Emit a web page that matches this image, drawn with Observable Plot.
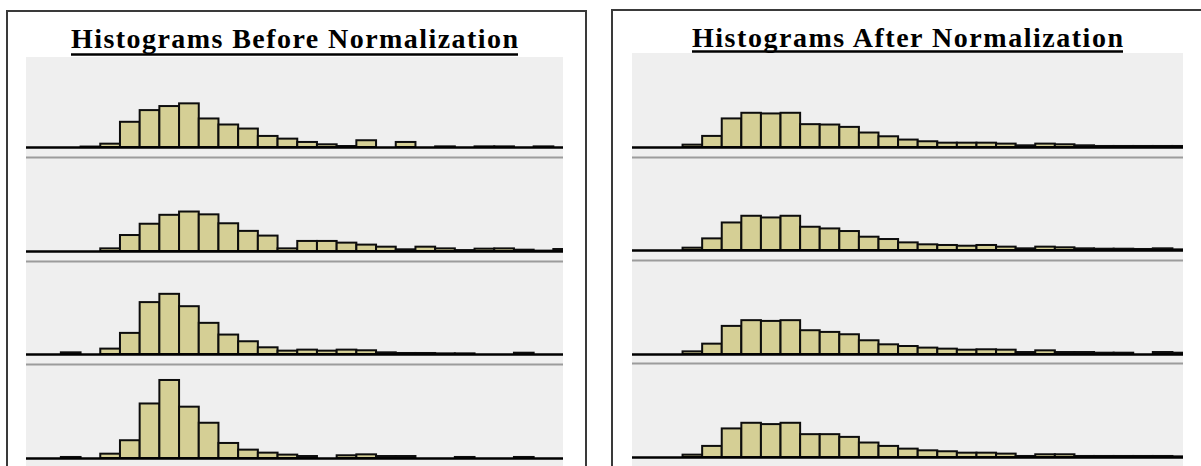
<!DOCTYPE html>
<html><head><meta charset="utf-8">
<script src="https://cdn.jsdelivr.net/npm/d3@7"></script>
<script src="https://cdn.jsdelivr.net/npm/@observablehq/plot@0.6"></script>
<style>
body{margin:0;background:#fff;width:1201px;height:466px;overflow:hidden;position:relative;font-family:"Liberation Serif",serif}
.panel{position:absolute;border:2px solid #3a3a3a;box-sizing:border-box}
.row{position:absolute;line-height:0}
.row svg{display:block}
#titles{position:absolute;left:0;top:0}
</style></head><body>
<script>
// Titles
const titleLeft = "Histograms Before Normalization";
const titleRight = "Histograms After Normalization";

// Bin indices (bin i spans i..i+1)
const binsLeft  = [0,1,2,3,4,5,6,7,8,9,10,11,12,13,14,15,16,17,18,19,20,21,22,23,24,25,26,27];
const binsRight = [0,1,2,3,4,5,6,7,8,9,10,11,12,13,14,15,16,17,18,19,20,21,22,23,24,25,26,27,28];

// Relative frequency (percent of panel height), before normalization
const before1 = [0,0,0,0.5,3.7,28,41,45.5,48.5,31.7,25,20.5,12.3,9.3,5.6,3,1.1,7.5,0,5.6,0,0.7,0,0.7,0.7,0,0.7,0];
const before2 = [0,0,0,0,2.8,17,29,38.5,42,39,29.5,21.4,16.4,2.8,10.7,10.7,8.9,6.8,4.6,1.8,4.6,2.8,1,2.5,2.8,1.4,0.4,2.1];
const before3 = [0,0,1.8,0,5.8,22.7,55.8,64.7,51.4,33.5,20.9,13.7,7.2,3.6,4.7,3.6,4.7,4,1.8,1.1,1.1,0.7,0.7,0,0,1.4,0,0];
const before4 = [0,0,1.1,0,4.6,18.9,58,83,54.6,37.5,16,8.9,5.7,3.6,2.1,0,2.9,3.9,2.1,2.1,0,0,1.1,0,0,1.1,0,0];

// After normalization
const after1 = [0,0,0,2.5,11.8,30.4,36.4,35.7,36.4,24.3,23.9,21.4,15.4,11.4,7.9,6.1,4.6,4.6,4.6,3.6,1.8,3.6,2.9,1.8,1.1,1.1,1.1,1.1,1.1];
const after2 = [0,0,0,2.5,12.5,29.6,36.8,35,36.8,25,23.2,20.4,14.3,11.8,8.2,6.1,5.4,4.6,5.4,3.6,1.8,3.6,2.9,1.8,1.4,1.4,1.1,1.8,0.7];
const after3 = [0,0,0,2.8,11,29.9,36,35.2,36,25.3,23.5,21,14.6,10.3,8.5,6.8,5.7,4.6,5,4.6,2.1,3.9,2.1,2.1,1.4,1.4,0,2.1,1.4];
const after4 = [0,0,0,2.5,11.8,30.4,36.4,35,36.4,24.3,24.3,21.4,15.4,11.8,8.9,7.1,6.1,4.6,4.6,3.6,1.1,2.9,2.9,1.1,1.1,1.1,1.1,1.1,0.7];

const BAR_FILL = "#d5cf95";
const BG = "#efefef";

// panel borders
function panel(l, t, w, h) {
  const d = document.createElement("div");
  d.className = "panel";
  Object.assign(d.style, {left: l + "px", top: t + "px", width: w + "px", height: h + "px"});
  document.body.appendChild(d);
}
panel(6, 10, 581, 480);
panel(611, 9, 610, 480);

// titles
const ns = "http://www.w3.org/2000/svg";
const tsvg = document.createElementNS(ns, "svg");
tsvg.setAttribute("id", "titles");
tsvg.setAttribute("width", 1201);
tsvg.setAttribute("height", 60);
function addTitle(txt, x0, x1, base, uy) {
  const t = document.createElementNS(ns, "text");
  t.textContent = txt;
  t.setAttribute("x", (x0 + x1) / 2);
  t.setAttribute("y", base);
  t.setAttribute("text-anchor", "middle");
  t.setAttribute("font-family", "Liberation Serif, Times New Roman, serif");
  t.setAttribute("font-weight", "bold");
  t.setAttribute("font-size", 28);
  t.setAttribute("textLength", x1 - x0);
  t.setAttribute("lengthAdjust", "spacing");
  t.setAttribute("fill", "#000");
  tsvg.appendChild(t);
  const l = document.createElementNS(ns, "line");
  l.setAttribute("x1", x0); l.setAttribute("x2", x1);
  l.setAttribute("y1", uy); l.setAttribute("y2", uy);
  l.setAttribute("stroke", "#000"); l.setAttribute("stroke-width", 2.5);
  tsvg.appendChild(l);
}
addTitle(titleLeft, 71, 518, 48, 54.5);
addTitle(titleRight, 692, 1123, 46.5, 51.5);
document.body.appendChild(tsvg);

function row(bins, values, opts) {
  const data = bins.map((b, i) => ({bin: b, v: values[i]})).filter(d => d.v > 0);
  const {x0, x1, top, axis, bottom, sep, domain} = opts;
  const svgTop = sep ? top - 1 : top;
  const marginTop = sep ? 1 : 0;
  const height = bottom - svgTop;
  const marginBottom = bottom - axis;
  const marks = [];
  if (sep) marks.push(Plot.frame({anchor: "top", stroke: "#9c9c9c", strokeWidth: 2}));
  marks.push(Plot.rectY(data, {x1: "bin", x2: d => d.bin + 1, y: "v", fill: BAR_FILL, stroke: "#0d0d0d", strokeWidth: 2, clip: true}));
  marks.push(Plot.ruleY([0], {stroke: "#000", strokeWidth: 2.6}));
  const chart = Plot.plot({
    width: x1 - x0, height, marginLeft: 0, marginRight: 0, marginTop, marginBottom,
    x: {domain, axis: null},
    y: {domain: [0, 100], axis: null},
    style: {background: BG, overflow: "hidden"},
    marks
  });
  const d = document.createElement("div");
  d.className = "row";
  Object.assign(d.style, {left: x0 + "px", top: svgTop + "px"});
  d.appendChild(chart);
  document.body.appendChild(d);
}

const L = {x0: 26, x1: 563, domain: [0.23, 27.49]};
row(binsLeft, before1, {...L, top: 57,  axis: 147, bottom: 156, sep: false});
row(binsLeft, before2, {...L, top: 157, axis: 251, bottom: 260, sep: true});
row(binsLeft, before3, {...L, top: 261, axis: 354, bottom: 363, sep: true});
row(binsLeft, before4, {...L, top: 364, axis: 458, bottom: 470, sep: true});

const R = {x0: 632, x1: 1183, domain: [0.42, 28.54]};
row(binsRight, after1, {...R, top: 53,  axis: 147, bottom: 156, sep: false});
row(binsRight, after2, {...R, top: 157, axis: 250, bottom: 259, sep: true});
row(binsRight, after3, {...R, top: 260, axis: 354, bottom: 362, sep: true});
row(binsRight, after4, {...R, top: 363, axis: 457, bottom: 470, sep: true});
</script>
</body></html>
